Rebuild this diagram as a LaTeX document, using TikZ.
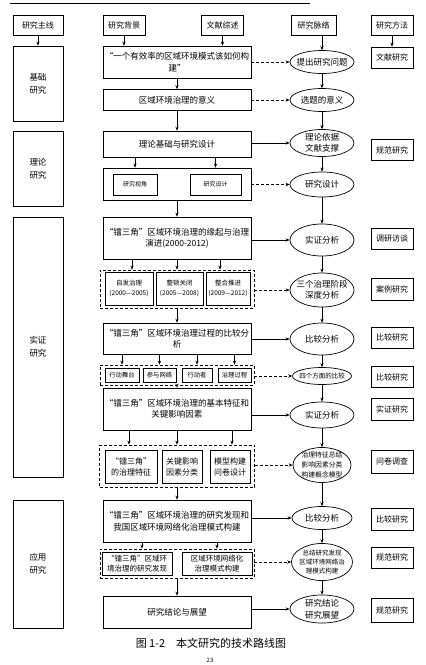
\documentclass[tikz,border=0pt]{standalone}
\usepackage{fontspec}
\setmainfont{Noto Sans CJK SC}
\usetikzlibrary{shapes.geometric,arrows.meta}
\newcommand\fsz[2]{\fontsize{#1pt}{#2pt}\selectfont}
\begin{document}
\begin{tikzpicture}[x=1pt,y=-1pt,
  sz/.style n args={2}{minimum width=#1pt,minimum height=#2pt},
  bx/.style={draw,line width=0.7pt,inner sep=0pt,align=center,font=\fsz{8}{11}},
  mbx/.style={bx,font=\fsz{8.5}{11.5}},
  dbx/.style={draw,line width=0.7pt,dash pattern=on 3pt off 2pt,inner sep=0pt},
  ell/.style={draw,ellipse,line width=0.7pt,inner sep=0pt},
  etx/.style={align=center,inner sep=0pt,font=\fsz{8.5}{11.5}},
  arr/.style={-{Stealth[length=4pt,width=3.2pt]},line width=0.6pt},
  darr/.style={arr,dash pattern=on 3pt off 2pt}]
\useasboundingbox (0,0) rectangle (426,665);
\draw[line width=0.8pt] (10,3) -- (310,3);

% column 1
\node[bx,sz={50}{20}] (h1) at (38,25) {研究主线};
\node[bx,sz={50}{75},font=\fsz{8.5}{13}] (L1) at (38,83.5) {基础\\研究};
\node[bx,sz={50}{75},font=\fsz{8.5}{13}] (L2) at (38,168.5) {理论\\研究};
\node[bx,sz={50}{260},font=\fsz{8.5}{13}] (L3) at (38,347) {实证\\研究};
\node[bx,sz={50}{128},font=\fsz{8.5}{13}] (L4) at (38,564) {应用\\研究};

% headers
\node[bx,sz={42}{20}] (hb) at (124,25) {研究背景};
\node[bx,sz={42}{20}] (hw) at (222.5,25) {文献综述};
\node[bx,sz={45}{20}] (hc) at (313.5,25) {研究脉络};
\node[bx,sz={42}{20}] (hm) at (392,25) {研究方法};

% column 2
\node[mbx,sz={148}{32}] (b1) at (177,62) {“一个有效率的区域环境模式该如何构\\建”};
\node[mbx,sz={148}{21}] (b2) at (177,100) {区域环境治理的意义};
\node[mbx,sz={148}{26}] (b3) at (177,144) {理论基础与研究设计};
\node[bx,sz={148}{32}] (b4) at (177,184) {};
\node[bx,sz={44}{21},font=\fsz{6}{8}] (p1) at (135,184.5) {研究视角};
\node[bx,sz={51}{21},font=\fsz{6}{8}] (p2) at (215.5,184.5) {研究设计};
\node[mbx,sz={148}{42}] (b5) at (177,238) {“镭三角”区域环境治理的缘起与治理\\演进(2000-2012)};
\node[dbx,sz={154}{38}] (c6) at (177,289) {};
\node[bx,sz={48}{33},font=\fsz{6.5}{10}] (s1) at (129,288.5) {自发治理\\(2000—2005)};
\node[bx,sz={47}{33},font=\fsz{6.5}{10}] (s2) at (179.5,288.5) {整顿关闭\\(2005—2008)};
\node[bx,sz={44}{33},font=\fsz{6.5}{10}] (s3) at (228,288.5) {整合推进\\(2009—2012)};
\node[mbx,sz={148}{31}] (b7) at (177,338.5) {“镭三角”区域环境治理过程的比较分\\析};
\node[dbx,sz={154}{20}] (c8) at (177,375) {};
\node[bx,sz={34}{14},font=\fsz{6.3}{8}] (q1) at (122,375) {行动舞台};
\node[bx,sz={33}{14},font=\fsz{6.3}{8}] (q2) at (159.5,375) {参与网络};
\node[bx,sz={30}{14},font=\fsz{6.3}{8}] (q3) at (197,375) {行动者};
\node[bx,sz={33}{14},font=\fsz{6.3}{8}] (q4) at (234.5,375) {治理过程};
\node[mbx,sz={148}{42}] (b9) at (177,409) {“镭三角”区域环境治理的基本特征和\\关键影响因素};
\node[dbx,sz={155}{42}] (c10) at (177,466) {};
\node[bx,sz={52}{33},font=\fsz{8}{11}] (r1) at (131,466.5) {“镭三角”\\的治理特征};
\node[bx,sz={40}{33},font=\fsz{8}{11}] (r2) at (182,466.5) {关键影响\\因素分类};
\node[bx,sz={40}{33},font=\fsz{8}{11}] (r3) at (230,466.5) {模型构建\\问卷设计};
\node[mbx,sz={148}{42}] (b11) at (177,521) {“镭三角”区域环境治理的研究发现和\\我国区域环境网络化治理模式构建};
\node[dbx,sz={154}{29}] (c12) at (177,563.5) {};
\node[bx,sz={70}{23},font=\fsz{7.5}{10}] (t1) at (137,563.5) {“镭三角”区域环\\境治理的研究发现};
\node[bx,sz={70}{23},font=\fsz{7.5}{10}] (t2) at (217,563.5) {区域环境网络化\\治理模式构建};
\node[mbx,sz={148}{32}] (b13) at (177,612) {研究结论与展望};

% column 3 ellipses
\node[ell,sz={64}{23}] (e1) at (322,62) {};
\node[etx] (e1t) at (e1) {提出研究问题};
\node[ell,sz={64}{23}] (e2) at (322,100) {};
\node[etx] (e2t) at (e2) {选题的意义};
\node[ell,sz={64}{27}] (e3) at (322,143) {};
\node[etx] (e3t) at (e3) {理论依据\\文献支撑};
\node[ell,sz={64}{25}] (e4) at (322,184.5) {};
\node[etx] (e4t) at (e4) {研究设计};
\node[ell,sz={64}{32}] (e5) at (322,240) {};
\node[etx] (e5t) at (e5) {实证分析};
\node[ell,sz={64}{34}] (e6) at (322,290) {};
\node[etx] (e6t) at (e6) {三个治理阶段\\深度分析};
\node[ell,sz={64}{32}] (e7) at (322,339) {};
\node[etx] (e7t) at (e7) {比较分析};
\node[ell,sz={59}{17}] (e8) at (322,376) {};
\node[etx,font=\fsz{6.5}{8}] (e8t) at (e8) {四个方面的比较};
\node[ell,sz={64}{26}] (e9) at (322,415) {};
\node[etx] (e9t) at (e9) {实证分析};
\node[ell,sz={58}{35}] (e10) at (322,465) {};
\node[etx,font=\fsz{6.8}{10.3}] (e10t) at (e10) {治理特征总结\\影响因素分类\\构建概念模型};
\node[ell,sz={60}{23}] (e11) at (322,518) {};
\node[etx] (e11t) at (e11) {比较分析};
\node[ell,sz={61}{37}] (e12) at (322,562) {};
\node[etx,font=\fsz{6.5}{8.6}] (e12t) at (e12) {总结研究发现\\区域环境网络治\\理模式构建};
\node[ell,sz={64}{28}] (e13) at (322,609) {};
\node[etx] (e13t) at (e13) {研究结论\\研究展望};

% column 4
\node[bx,sz={42}{21}] (m1) at (392,57.5) {文献研究};
\node[bx,sz={42}{21}] (m2) at (392,150) {规范研究};
\node[bx,sz={42}{21}] (m3) at (392,238.5) {调研访谈};
\node[bx,sz={42}{22}] (m4) at (392,289) {案例研究};
\node[bx,sz={42}{21}] (m5) at (392,337.5) {比较研究};
\node[bx,sz={42}{21}] (m6) at (392,377) {比较研究};
\node[bx,sz={42}{22}] (m7) at (392,409) {实证研究};
\node[bx,sz={42}{23}] (m8) at (392,461.5) {问卷调查};
\node[bx,sz={42}{22}] (m9) at (392,519) {比较研究};
\node[bx,sz={42}{21}] (m10) at (392,557.5) {规范研究};
\node[bx,sz={42}{24}] (m11) at (392,610) {规范研究};

% caption
\node[inner sep=0pt,font=\fsz{11}{13}] (cap) at (211,643) {图 1-2\hspace{1em}本文研究的技术路线图};
\node[inner sep=0pt,font=\fsz{6}{7}] (pg) at (210,660) {23};

% header arrows
\draw[arr] (h1) -- (L1);
\draw[arr] (hb.south) -- (hb.south |- b1.north);
\draw[arr] (hw.south) -- (hw.south |- b1.north);
\draw[arr] (hc.south -| e1.north) -- (e1.north);
\draw[arr] (hm) -- (m1);

% column 2 vertical arrows
\draw[arr] (b1) -- (b2);
\draw[arr] (b2) -- (b3);
\draw[arr] (b3.south -| p1) -- (b4.north -| p1);
\draw[arr] (b3.south -| p2) -- (b4.north -| p2);
\draw[arr] (b4) -- (b5);
\draw[arr] ([xshift=-45pt]b5.south) -- ([xshift=-45pt]b5.south |- c6.north);
\draw[arr] (b5.south) -- (c6.north);
\draw[arr] ([xshift=43pt]b5.south) -- ([xshift=43pt]b5.south |- c6.north);
\draw[arr] (c6) -- (b7);
\foreach \q in {q1,q2,q3,q4} \draw[arr] (b7.south -| \q) -- (c8.north -| \q);
\draw[arr] (c8) -- (b9);
\draw[arr] ([xshift=-48pt]b9.south) -- ([xshift=-48pt]b9.south |- c10.north);
\draw[arr] (b9.south) -- (c10.north);
\draw[arr] ([xshift=55pt]b9.south) -- ([xshift=55pt]b9.south |- c10.north);
\draw[arr] (c10) -- (b11);
\draw[arr] ([xshift=-35pt]b11.south) -- ([xshift=-35pt]b11.south |- c12.north);
\draw[arr] ([xshift=40pt]b11.south) -- ([xshift=40pt]b11.south |- c12.north);
\draw[arr] (c12) -- (b13);

% horizontal arrows
\draw[darr] (b1.east |- e1.west) -- (e1.west);
\draw[darr] (b2.east |- e2.west) -- (e2.west);
\draw[arr]  (b3.east |- e3.west) -- (e3.west);
\draw[darr] (b4.east |- e4.west) -- (e4.west);
\draw[arr]  (b5.east |- e5.west) -- (e5.west);
\draw[darr] (c6.east |- e6.west) -- (e6.west);
\draw[arr]  (b7.east |- e7.west) -- (e7.west);
\draw[darr] (c8.east |- e8.west) -- (e8.west);
\draw[arr]  (b9.east |- e9.west) -- (e9.west);
\draw[darr] (c10.east |- e10.west) -- (e10.west);
\draw[arr]  (b11.east |- e11.west) -- (e11.west);
\draw[darr] (c12.east |- e12.west) -- (e12.west);
\draw[arr]  (b13.east |- e13.west) -- (e13.west);

% ellipse chain
\foreach \a/\b in {e1/e2,e2/e3,e3/e4,e4/e5,e5/e6,e6/e7,e7/e8,e8/e9,e9/e10,e10/e11,e11/e12,e12/e13}
  \draw[arr] (\a.south) -- (\b.north);
\end{tikzpicture}
\end{document}
